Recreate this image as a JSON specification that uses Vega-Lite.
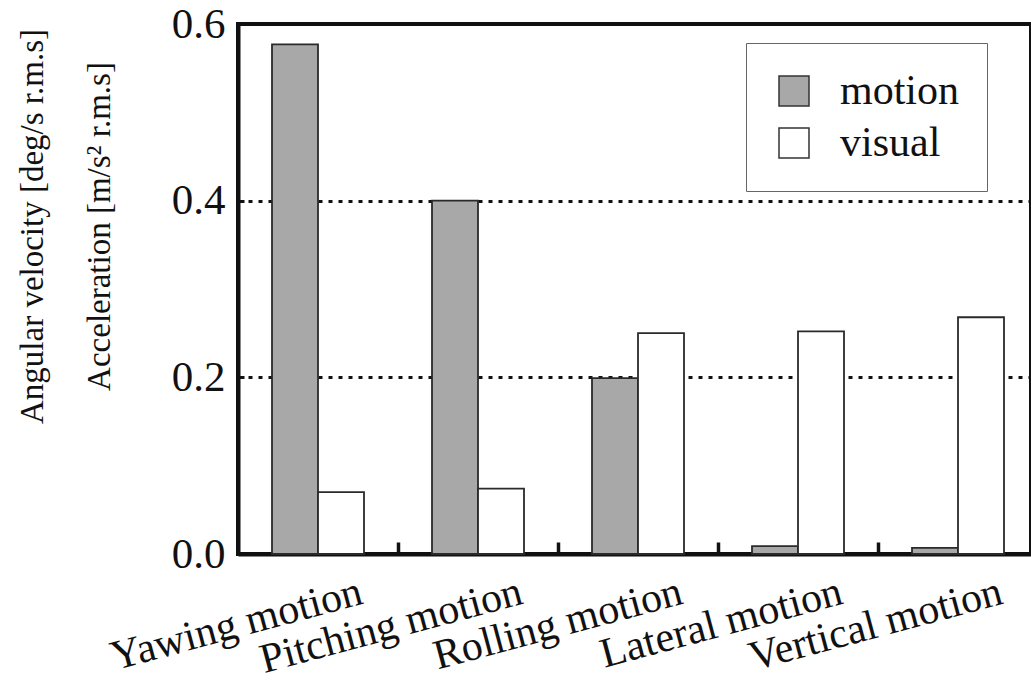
{
  "$schema": "https://vega.github.io/schema/vega-lite/v6.json",
  "width": 793,
  "height": 530,
  "autosize": {"type": "none"},
  "padding": {"left": 238, "top": 24, "right": 0, "bottom": 127},
  "background": "white",
  "data": {
    "values": [
      {"condition": "Yawing motion", "type": "motion", "value": 0.577},
      {"condition": "Yawing motion", "type": "visual", "value": 0.070},
      {"condition": "Pitching motion", "type": "motion", "value": 0.400},
      {"condition": "Pitching motion", "type": "visual", "value": 0.074},
      {"condition": "Rolling motion", "type": "motion", "value": 0.199},
      {"condition": "Rolling motion", "type": "visual", "value": 0.250},
      {"condition": "Lateral motion", "type": "motion", "value": 0.009},
      {"condition": "Lateral motion", "type": "visual", "value": 0.252},
      {"condition": "Vertical motion", "type": "motion", "value": 0.007},
      {"condition": "Vertical motion", "type": "visual", "value": 0.268}
    ]
  },
  "mark": {"type": "bar", "stroke": "#2a2a2a", "strokeWidth": 1.8},
  "encoding": {
    "x": {
      "field": "condition",
      "type": "nominal",
      "sort": ["Yawing motion", "Pitching motion", "Rolling motion", "Lateral motion", "Vertical motion"],
      "scale": {"type": "band", "range": [0, 800], "paddingInner": 0.425, "paddingOuter": 0.2125},
      "axis": {
        "title": null,
        "grid": false,
        "bandPosition": 1.3696,
        "ticks": true,
        "tickSize": -12,
        "tickWidth": 3.5,
        "tickColor": "#111",
        "labelOffset": 38,
        "labelAngle": -15,
        "labelAlign": "right",
        "labelBaseline": "top",
        "labelPadding": 29,
        "labelFont": "Liberation Serif",
        "labelFontSize": 42,
        "labelColor": "#111",
        "labelLimit": 500,
        "labelOverlap": false,
        "labelFlush": false,
        "labelBound": false,
        "domainColor": "#111",
        "domainWidth": 4
      }
    },
    "xOffset": {
      "field": "type",
      "type": "nominal",
      "sort": ["motion", "visual"],
      "scale": {"paddingInner": 0, "paddingOuter": 0}
    },
    "y": {
      "field": "value",
      "type": "quantitative",
      "scale": {"domain": [0, 0.6], "nice": false, "zero": true},
      "axis": {
        "title": ["Angular velocity [deg/s r.m.s]", "Acceleration [m/s² r.m.s]"],
        "titleFont": "Liberation Serif",
        "titleFontSize": 33,
        "titleFontWeight": "normal",
        "titleColor": "#111",
        "titleAngle": -90,
        "titleX": -196,
        "titleY": 202,
        "titleAlign": "center",
        "titleBaseline": "alphabetic",
        "titleLineHeight": 67,
        "values": [0, 0.2, 0.4, 0.6],
        "format": ".1f",
        "labelFont": "Liberation Serif",
        "labelFontSize": 43,
        "labelColor": "#111",
        "labelPadding": 19,
        "labelBaseline": "middle",
        "ticks": true,
        "tickSize": -6,
        "tickWidth": 3,
        "tickColor": "#111",
        "grid": true,
        "gridColor": "#111",
        "gridWidth": 3,
        "gridDash": [4, 6],
        "domainColor": "#111",
        "domainWidth": 4
      }
    },
    "fill": {
      "field": "type",
      "type": "nominal",
      "scale": {"domain": ["motion", "visual"], "range": ["#a8a8a8", "#ffffff"]},
      "legend": {
        "title": null,
        "orient": "none",
        "legendX": 508,
        "legendY": 19,
        "padding": 27,
        "strokeColor": "#666",
        "fillColor": "white",
        "symbolType": "square",
        "symbolSize": 900,
        "symbolStrokeColor": "#333",
        "symbolStrokeWidth": 1.5,
        "symbolOpacity": 1,
        "labelFont": "Liberation Serif",
        "labelFontSize": 42,
        "labelColor": "#111",
        "labelOffset": 25,
        "rowPadding": 10
      }
    }
  },
  "config": {
    "view": {"stroke": "#111", "strokeWidth": 4},
    "font": "Liberation Serif"
  }
}
